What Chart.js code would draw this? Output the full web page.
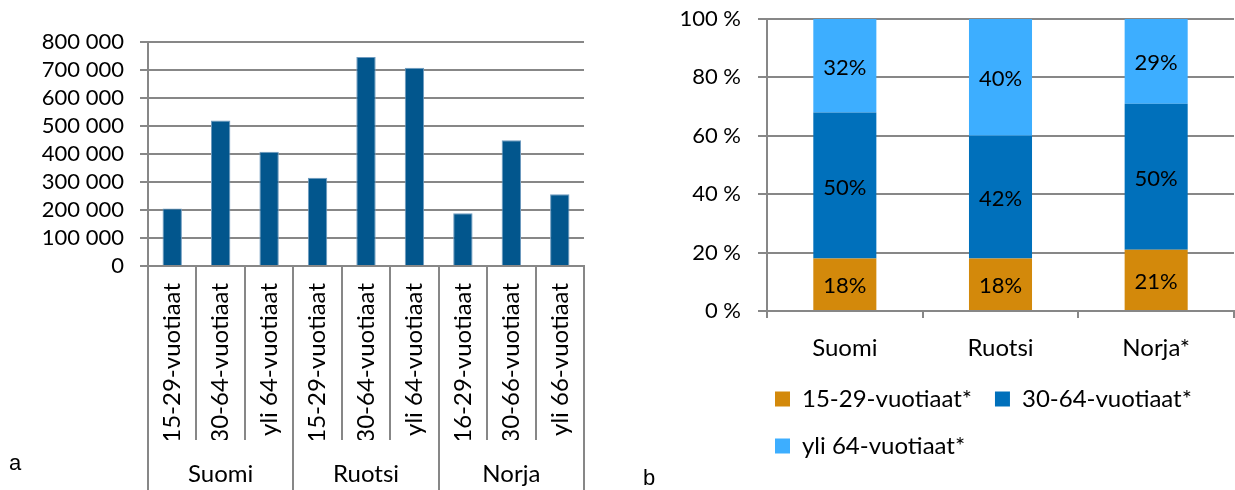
<!DOCTYPE html>
<html>
<head>
<meta charset="utf-8">
<script src="https://cdn.jsdelivr.net/npm/chart.js@4/dist/chart.umd.min.js"></script>
<style>
  body { margin: 0; background: #fff; width: 1235px; height: 490px; position: relative; overflow: hidden; }
  canvas { position: absolute; top: 0; }
  #chartA { left: 0; }
  #chartB { left: 640px; }
  .tag { position: absolute; font: 22px "Liberation Sans", Arial, sans-serif; color: #000; }
</style>
</head>
<body>
<canvas id="chartA" width="600" height="490"></canvas>
<canvas id="chartB" width="595" height="490"></canvas>
<div class="tag" style="left:9px; top:450px;">a</div>
<div class="tag" style="left:643px; top:465px;">b</div>
<script>
// chart a: number of people by country and age group
const countryGroups = ['Suomi', 'Ruotsi', 'Norja'];
const ageLabels = ['15-29-vuotiaat', '30-64-vuotiaat', 'yli 64-vuotiaat',
                   '15-29-vuotiaat', '30-64-vuotiaat', 'yli 64-vuotiaat',
                   '16-29-vuotiaat', '30-66-vuotiaat', 'yli 66-vuotiaat'];
const peopleCounts = [205000, 520000, 408000, 315000, 746000, 708000, 188000, 449000, 256000];

// chart b: share of each age group (%)
const countries = ['Suomi', 'Ruotsi', 'Norja*'];
const seriesNames = ['15-29-vuotiaat*', '30-64-vuotiaat*', 'yli 64-vuotiaat*'];
const shareYoung = [18, 18, 21];
const shareMiddle = [50, 42, 50];
const shareOld = [32, 40, 29];

const gridColor = '#878787';

Chart.defaults.font.family = 'Lato';
Chart.defaults.color = '#000';

function spaced(v) {
    return String(v).replace(/\B(?=(\d{3})+(?!\d))/g, ' ');
}

new Chart(document.getElementById('chartA'), {
    type: 'bar',
    data: {
        labels: ageLabels,
        datasets: [{
            data: peopleCounts,
            backgroundColor: '#02568D',
            borderColor: '#6f9bbf',
            borderWidth: 1,
            barPercentage: 0.4,
            categoryPercentage: 1
        }]
    },
    options: {
        responsive: false,
        animation: false,
        layout: { padding: { top: 42, right: 16, bottom: 0, left: 0 } },
        plugins: { legend: { display: false }, tooltip: { enabled: false } },
        scales: {
            x: {
                weight: 0,
                grid: { offset: true, drawOnChartArea: false, tickLength: 174, color: gridColor, lineWidth: 2 },
                border: { color: gridColor, width: 2 },
                ticks: { autoSkip: false, minRotation: 90, maxRotation: 90, padding: -157, font: { size: 24 } },
                afterFit: s => { s.height = 174; }
            },
            group: {
                type: 'category',
                labels: countryGroups,
                position: 'bottom',
                weight: 1,
                offset: true,
                grid: { offset: true, drawOnChartArea: false, tickLength: 50, color: gridColor, lineWidth: 2 },
                border: { display: false },
                ticks: { maxRotation: 0, padding: -30, font: { size: 24 } },
                afterFit: s => { s.height = 50; }
            },
            y: {
                min: 0,
                max: 800000,
                grid: { color: gridColor, lineWidth: 2, tickLength: 8 },
                border: { color: gridColor, width: 2 },
                ticks: { autoSkip: false, stepSize: 100000, padding: 16, font: { size: 22 }, callback: v => spaced(v) },
                afterFit: s => { s.width = 148; }
            }
        }
    }
});

// percentages written in the middle of each stacked piece
const segmentLabels = {
    id: 'segmentLabels',
    afterDatasetsDraw(chart) {
        const ctx = chart.ctx;
        ctx.save();
        ctx.font = '22px Lato';
        ctx.fillStyle = '#000';
        ctx.textAlign = 'center';
        ctx.textBaseline = 'middle';
        chart.data.datasets.forEach((ds, i) => {
            chart.getDatasetMeta(i).data.forEach((bar, j) => {
                const p = bar.getProps(['x', 'y', 'base'], true);
                ctx.fillText(ds.data[j] + '%', p.x, (p.y + p.base) / 2 + 2);
            });
        });
        ctx.restore();
    }
};

// move the legend so its boxes line up like the original
const legendShift = {
    id: 'legendShift',
    afterLayout(chart) {
        const lg = chart.legend;
        const w = lg.width;
        lg.left = 112;
        lg.right = lg.left + w;
    }
};

new Chart(document.getElementById('chartB'), {
    type: 'bar',
    data: {
        labels: countries,
        datasets: [
            { label: seriesNames[0], data: shareYoung, backgroundColor: '#D3890B' },
            { label: seriesNames[1], data: shareMiddle, backgroundColor: '#0070BB' },
            { label: seriesNames[2], data: shareOld, backgroundColor: '#3DAEFF' }
        ]
    },
    options: {
        responsive: false,
        animation: false,
        datasets: { bar: { barPercentage: 0.405, categoryPercentage: 1 } },
        layout: { padding: { top: 19, right: 1, bottom: 22, left: 0 } },
        plugins: {
            tooltip: { enabled: false },
            legend: {
                position: 'bottom',
                align: 'start',
                fullSize: false,
                labels: { boxWidth: 15, boxHeight: 15, padding: 23, font: { size: 24 }, color: '#000' }
            }
        },
        scales: {
            x: {
                stacked: true,
                grid: { offset: true, drawOnChartArea: false, tickLength: 7, color: gridColor, lineWidth: 2 },
                border: { color: gridColor, width: 2 },
                ticks: { padding: 16, font: { size: 24 } },
                afterFit: s => { s.height = 53; }
            },
            y: {
                stacked: true,
                min: 0,
                max: 100,
                grid: { color: gridColor, lineWidth: 2, tickLength: 9 },
                border: { color: gridColor, width: 2 },
                ticks: { stepSize: 20, padding: 17, font: { size: 22 }, callback: v => v + ' %' },
                afterFit: s => {
                    s.width = 127;
                    // the tick padding would otherwise push the plot down
                    s.paddingTop = 0;
                    s.paddingBottom = 0;
                }
            }
        }
    },
    plugins: [segmentLabels, legendShift]
});
</script>
</body>
</html>
